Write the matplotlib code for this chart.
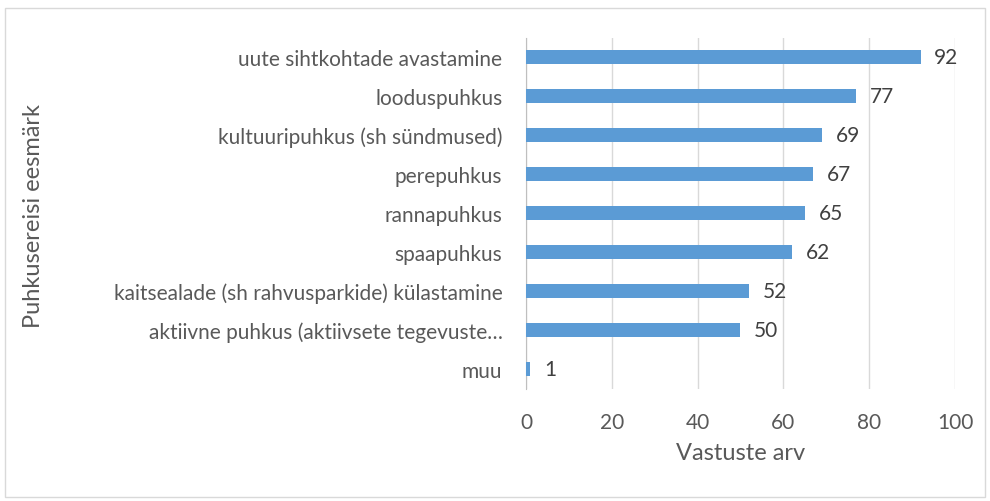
import matplotlib.pyplot as plt
from matplotlib.patches import Rectangle

categories = ['muu',
              'aktiivne puhkus (aktiivsete tegevuste…',
              'kaitsealade (sh rahvusparkide) külastamine',
              'spaapuhkus',
              'rannapuhkus',
              'perepuhkus',
              'kultuuripuhkus (sh sündmused)',
              'looduspuhkus',
              'uute sihtkohtade avastamine']
values = [1, 50, 52, 62, 65, 67, 69, 77, 92]
x_ticks = [0, 20, 40, 60, 80, 100]

plt.rcParams['font.family'] = ['Lato', 'DejaVu Sans']
text_color = '#595959'
bar_color = '#5B9BD5'

fig = plt.figure(figsize=(9.9, 5.02), dpi=100)
ax = fig.add_axes([0.5313, 0.2241, 0.4333, 0.6992])

ax.barh(range(len(categories)), values, height=0.36, color=bar_color, zorder=3)
for i, v in enumerate(values):
    ax.text(v + 3.2, i, str(v), va='center', ha='left', fontsize=15, color='#404040')

ax.set_xlim(0, 100)
ax.set_ylim(-0.5, len(categories) - 0.5)
ax.set_xticks(x_ticks)
ax.set_yticks(range(len(categories)))
ax.set_yticklabels(categories)
ax.grid(axis='x', color='#D9D9D9', linewidth=1, zorder=0)
for s in ['top', 'right', 'bottom']:
    ax.spines[s].set_visible(False)
ax.spines['left'].set_color('#BFBFBF')
ax.tick_params(axis='y', length=0, pad=17, labelsize=15, labelcolor=text_color)
ax.tick_params(axis='x', length=0, pad=17, labelsize=15, labelcolor=text_color)

ax.set_xlabel('Vastuste arv', fontsize=17, color=text_color, labelpad=7)
fig.text(0.034, 0.57, 'Puhkusereisi eesmärk', rotation=90, fontsize=17,
         color=text_color, ha='center', va='center')

fig.patches.append(Rectangle((0.005, 0.008), 0.99, 0.975, transform=fig.transFigure,
                             fill=False, edgecolor='#D9D9D9', linewidth=1))

fig.savefig('out.png', dpi=100)
